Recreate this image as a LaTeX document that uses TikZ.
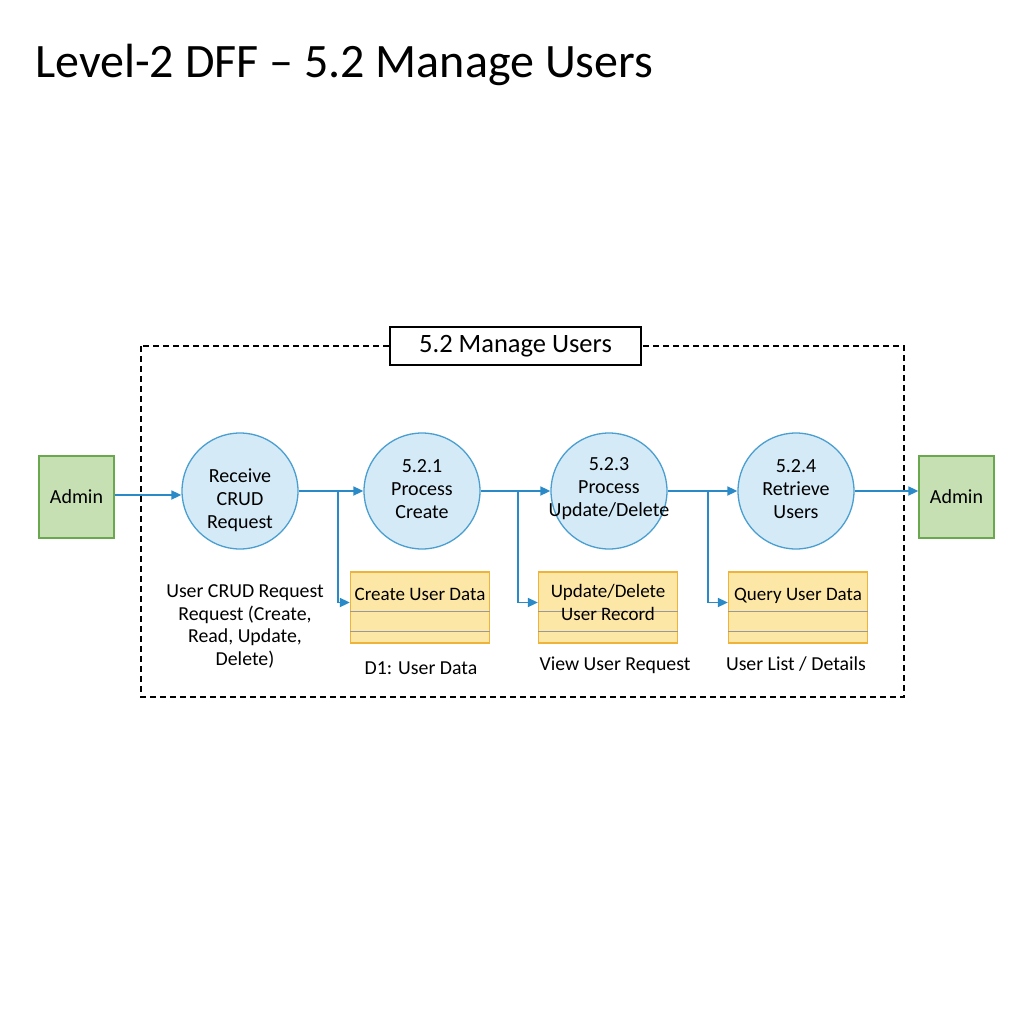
\documentclass[tikz,border=0pt]{standalone}
\usepackage{fontspec}
\setmainfont{Carlito}
\usepackage{tikz}
\usetikzlibrary{arrows.meta, positioning, calc}

\definecolor{flowblue}{HTML}{2A8AC8}
\definecolor{procfill}{HTML}{D4EAF6}
\definecolor{procline}{HTML}{4A9FD0}
\definecolor{extfill}{HTML}{C6E0B4}
\definecolor{extline}{HTML}{6AA84F}
\definecolor{storefill}{HTML}{FDE7A6}
\definecolor{storeline}{HTML}{EFB33A}

\begin{document}
\begin{tikzpicture}[
  x=1pt, y=-1pt,
  process/.style = {circle, draw=procline, fill=procfill, line width=1.3pt, minimum size=116pt,
                    inner sep=0pt},
  proctext/.style = {align=center, inner sep=0pt, font=\fontsize{20}{23}\selectfont},
  entity/.style = {draw=extline, fill=extfill, line width=1.3pt, minimum width=75pt,
                   minimum height=82pt, font=\fontsize{20}{23}\selectfont},
  store/.style = {draw=storeline, fill=storefill, line width=1.3pt, minimum width=139pt,
                  minimum height=71pt, inner sep=0pt},
  storetext/.style = {align=center, font=\fontsize{19}{22.5}\selectfont},
  flowtext/.style = {align=center, font=\fontsize{19.8}{22.5}\selectfont},
  arrow/.style = {draw=flowblue, line width=1.7pt, -{Triangle[length=10pt, width=9pt]}}
]
  \useasboundingbox (0,0) rectangle (1024,1024);

  % Title
  \node[anchor=base west, inner sep=0pt, font=\fontsize{48}{56}\selectfont] (title) at (35,78)
    {Level-2 DFF -- 5.2 Manage Users};

  % Boundary of process 5.2
  \draw[line width=1.4pt, dash pattern=on 6pt off 4pt] (141,346) rectangle (904,697);
  \node[draw, fill=white, line width=1.1pt, minimum width=251pt, minimum height=38pt,
        font=\fontsize{26.5}{30}\selectfont] (boundary) at (515.5,346) {5.2 Manage Users};

  % External entities
  \node[entity] (admin_in) at (76.5,497) {Admin};
  \node[entity] (admin_out) at (956.5,497) {Admin};

  % Processes
  \node[process, label={[proctext, yshift=-9pt]center:{Receive\\CRUD\\Request}}] (receive) at (240,491) {};
  \node[process, label={[proctext, yshift=2pt]center:{5.2.1\\Process\\Create}}] (create) at (422,491) {};
  \node[process, label={[proctext, yshift=2pt]center:{5.2.3\\Process\\Update/Delete}}] (update) at (609,491) {};
  \node[process, label={[proctext, yshift=2pt]center:{5.2.4\\Retrieve\\Users}}] (retrieve) at (796,491) {};

  % Data stores
  \node[store] (s_create) at (420,607.5) {};
  \node[store] (s_update) at (608,607.5) {};
  \node[store] (s_query) at (798,607.5) {};
  \foreach \s in {s_create, s_update, s_query} {
    \draw[gray!80, line width=1pt] ($(\s.west)+(0,4)$) -- ($(\s.east)+(0,4)$);
    \draw[gray!80, line width=1pt] ($(\s.west)+(0,24)$) -- ($(\s.east)+(0,24)$);
  }
  \node[storetext, anchor=base] at (420,600) {Create User Data};
  \node[storetext, anchor=base] at (608,620) {Update/Delete\\User Record};
  \node[storetext, anchor=base] at (798,600) {Query User Data};

  % Flow labels
  \node[flowtext, anchor=base] (lbl_req) at (245,665)
    {User CRUD Request\\Request (Create,\\Read, Update,\\Delete)};
  \node[flowtext, anchor=base] (lbl_d1) at (421,674) {D1: User Data};
  \node[flowtext, anchor=base] (lbl_view) at (615,670) {View User Request};
  \node[flowtext, anchor=base] (lbl_list) at (796,670) {User List / Details};

  % Main flow
  \draw[arrow] (admin_in.east |- 0,495) -- (receive.west |- 0,495);
  \draw[arrow] (receive) -- (create);
  \draw[arrow] (create) -- (update);
  \draw[arrow] (update) -- (retrieve);
  \draw[arrow] (retrieve.east) -- (admin_out.west |- retrieve.east);

  % Branches to data stores
  \coordinate (br1) at (338,491);
  \coordinate (br2) at (518,491);
  \coordinate (br3) at (708,491);
  \draw[arrow] (br1) |- ($(s_create.west)+(0,-5)$);
  \draw[arrow] (br2) |- ($(s_update.west)+(0,-5)$);
  \draw[arrow] (br3) |- ($(s_query.west)+(0,-5)$);

\end{tikzpicture}
\end{document}
